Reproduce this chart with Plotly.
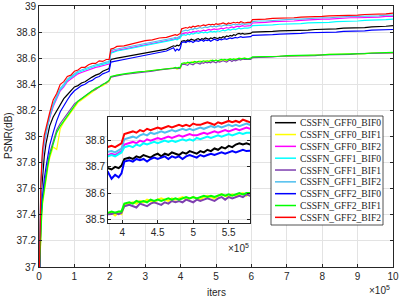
import plotly.graph_objects as go

# ---------------- data (iters in units of 1e5, PSNR in dB) ----------------
iters = [0.01, 0.02, 0.03, 0.05, 0.075, 0.1, 0.15, 0.2, 0.25, 0.3, 0.4, 0.5, 0.6, 0.7, 0.8, 0.9, 1.0,
         1.1, 1.2, 1.3, 1.4, 1.5, 1.6, 1.7, 1.8, 1.9, 1.98,
         2.03, 2.1, 2.2, 2.4, 2.6, 2.8, 3.0, 3.2, 3.4, 3.6, 3.8,
         3.85, 3.9, 3.95, 3.99,
         4.03, 4.1, 4.15, 4.2, 4.25, 4.3, 4.35, 4.4, 4.45, 4.5, 4.55, 4.6, 4.65, 4.7, 4.75, 4.8, 4.85,
         4.9, 4.95, 5.0, 5.05, 5.1, 5.15, 5.2, 5.25, 5.3, 5.35, 5.4, 5.45, 5.5, 5.55, 5.6, 5.65, 5.7,
         5.75, 5.8,
         5.9, 5.98,
         6.03, 6.2, 6.4, 6.6, 6.8, 7.0, 7.2, 7.4, 7.6, 7.8, 8.0, 8.2, 8.4, 8.6, 8.8, 9.0, 9.2, 9.4,
         9.6, 9.8, 10.0]

gff0_bif0 = [36.80, 37.10, 37.30, 37.45, 37.60, 37.70, 37.85, 37.95, 38.02, 38.08, 38.15, 38.20, 38.25, 38.29, 38.32, 38.35, 38.38,
             38.39, 38.41, 38.42, 38.44, 38.455, 38.47, 38.48, 38.50, 38.51, 38.52,
             38.59, 38.595, 38.60, 38.61, 38.62, 38.63, 38.64, 38.645, 38.655, 38.67, 38.695,
             38.69, 38.70, 38.695, 38.705,
             38.73, 38.735, 38.73, 38.74, 38.735, 38.745, 38.74, 38.735, 38.745, 38.75, 38.74, 38.75, 38.745,
             38.755, 38.75, 38.745, 38.755, 38.75, 38.76, 38.755, 38.75, 38.76, 38.755, 38.765, 38.76, 38.77,
             38.765, 38.775, 38.77, 38.78, 38.775, 38.785, 38.79, 38.785, 38.79, 38.785,
             38.785, 38.79,
             38.80, 38.80, 38.805, 38.805, 38.81, 38.81, 38.81, 38.815, 38.815, 38.82, 38.82, 38.825, 38.825,
             38.83, 38.83, 38.835, 38.835, 38.84, 38.84, 38.845, 38.85]

gff0_bif1 = [36.93, 37.03, 37.12, 37.24, 37.38, 37.48, 37.58, 37.68, 37.76, 37.83, 37.92, 37.90, 38.06, 38.11, 38.15, 38.19, 38.23,
             38.26, 38.28, 38.30, 38.32, 38.34, 38.36, 38.38, 38.39, 38.41, 38.42,
             38.455, 38.46, 38.47, 38.475, 38.485, 38.49, 38.50, 38.505, 38.51, 38.515, 38.52,
             38.525, 38.515, 38.525, 38.52,
             38.555, 38.56, 38.565, 38.56, 38.57, 38.565, 38.575, 38.57, 38.565, 38.575, 38.58, 38.575, 38.57,
             38.58, 38.575, 38.58, 38.585, 38.575, 38.58, 38.585, 38.58, 38.575, 38.585, 38.59, 38.585, 38.58,
             38.59, 38.595, 38.59, 38.585, 38.595, 38.59, 38.595, 38.6, 38.59, 38.6,
             38.595, 38.595,
             38.605, 38.61, 38.61, 38.615, 38.615, 38.615, 38.62, 38.62, 38.62, 38.625, 38.625, 38.63, 38.63,
             38.63, 38.635, 38.635, 38.635, 38.64, 38.64, 38.64, 38.64]

gff0_bif2 = [36.86, 37.18, 37.38, 37.56, 37.72, 37.84, 37.95, 38.03, 38.09, 38.14, 38.23, 38.29, 38.35, 38.38, 38.42, 38.44, 38.46,
             38.48, 38.49, 38.50, 38.515, 38.52, 38.53, 38.535, 38.545, 38.55, 38.555,
             38.645, 38.65, 38.66, 38.67, 38.68, 38.69, 38.70, 38.71, 38.72, 38.73, 38.745,
             38.75, 38.745, 38.755, 38.76,
             38.785, 38.79, 38.795, 38.79, 38.80, 38.795, 38.805, 38.80, 38.805, 38.81, 38.805, 38.81, 38.815,
             38.81, 38.815, 38.82, 38.815, 38.82, 38.825, 38.82, 38.82, 38.825, 38.83, 38.825, 38.83, 38.835,
             38.83, 38.835, 38.84, 38.835, 38.84, 38.845, 38.84, 38.845, 38.85, 38.845,
             38.845, 38.85,
             38.87, 38.87, 38.875, 38.88, 38.88, 38.885, 38.885, 38.89, 38.895, 38.895, 38.90, 38.90, 38.905,
             38.905, 38.91, 38.91, 38.91, 38.915, 38.915, 38.92, 38.92]

gff1_bif0 = [36.87, 37.20, 37.40, 37.58, 37.74, 37.86, 37.97, 38.04, 38.10, 38.15, 38.24, 38.30, 38.36, 38.39, 38.43, 38.45, 38.47,
             38.49, 38.50, 38.51, 38.525, 38.53, 38.54, 38.545, 38.555, 38.56, 38.565,
             38.64, 38.645, 38.655, 38.665, 38.675, 38.685, 38.695, 38.705, 38.715, 38.725, 38.74,
             38.745, 38.74, 38.75, 38.755,
             38.775, 38.78, 38.775, 38.785, 38.78, 38.79, 38.785, 38.79, 38.795, 38.79, 38.795, 38.80, 38.795,
             38.80, 38.795, 38.80, 38.805, 38.80, 38.805, 38.80, 38.81, 38.805, 38.81, 38.815, 38.81, 38.815,
             38.82, 38.815, 38.82, 38.825, 38.82, 38.825, 38.83, 38.825, 38.83, 38.83,
             38.83, 38.835,
             38.85, 38.85, 38.855, 38.855, 38.86, 38.86, 38.865, 38.865, 38.87, 38.87, 38.875, 38.875, 38.88,
             38.88, 38.885, 38.885, 38.89, 38.89, 38.895, 38.895, 38.90]

gff1_bif1 = [36.97, 37.08, 37.18, 37.30, 37.43, 37.53, 37.63, 37.73, 37.80, 37.87, 37.97, 38.05, 38.10, 38.14, 38.18, 38.21, 38.25,
             38.27, 38.29, 38.31, 38.33, 38.35, 38.36, 38.38, 38.40, 38.41, 38.43,
             38.455, 38.46, 38.465, 38.475, 38.48, 38.49, 38.495, 38.5, 38.51, 38.515, 38.52,
             38.52, 38.525, 38.52, 38.525,
             38.55, 38.555, 38.55, 38.545, 38.56, 38.555, 38.55, 38.56, 38.565, 38.56, 38.555, 38.565, 38.56,
             38.57, 38.565, 38.57, 38.565, 38.575, 38.57, 38.565, 38.575, 38.57, 38.575, 38.58, 38.575, 38.57,
             38.58, 38.585, 38.575, 38.585, 38.58, 38.585, 38.59, 38.585, 38.595, 38.59,
             38.59, 38.59,
             38.605, 38.605, 38.61, 38.61, 38.615, 38.615, 38.615, 38.62, 38.62, 38.62, 38.625, 38.625, 38.63,
             38.63, 38.63, 38.635, 38.635, 38.635, 38.64, 38.64, 38.64]

gff1_bif2 = [36.88, 37.22, 37.42, 37.60, 37.75, 37.87, 37.98, 38.05, 38.11, 38.16, 38.25, 38.31, 38.37, 38.40, 38.44, 38.46, 38.48,
             38.50, 38.51, 38.52, 38.535, 38.54, 38.55, 38.555, 38.565, 38.57, 38.575,
             38.655, 38.665, 38.67, 38.685, 38.695, 38.705, 38.715, 38.725, 38.735, 38.745, 38.755,
             38.76, 38.755, 38.765, 38.77,
             38.805, 38.81, 38.815, 38.81, 38.82, 38.825, 38.82, 38.83, 38.825, 38.83, 38.835, 38.83, 38.835,
             38.84, 38.835, 38.84, 38.845, 38.84, 38.845, 38.84, 38.845, 38.85, 38.845, 38.85, 38.855, 38.85,
             38.855, 38.85, 38.855, 38.86, 38.855, 38.86, 38.855, 38.86, 38.865, 38.86,
             38.86, 38.865,
             38.88, 38.885, 38.885, 38.89, 38.895, 38.895, 38.90, 38.90, 38.905, 38.905, 38.91, 38.91, 38.915,
             38.915, 38.92, 38.92, 38.92, 38.925, 38.925, 38.93, 38.93]

gff2_bif0 = [36.75, 37.00, 37.18, 37.35, 37.47, 37.55, 37.68, 37.77, 37.86, 37.93, 38.03, 38.12, 38.19, 38.24, 38.28, 38.32, 38.35,
             38.37, 38.39, 38.40, 38.42, 38.43, 38.45, 38.46, 38.48, 38.49, 38.50,
             38.57, 38.575, 38.58, 38.59, 38.60, 38.61, 38.62, 38.63, 38.64, 38.655, 38.68,
             38.655, 38.67, 38.66, 38.675,
             38.72, 38.725, 38.72, 38.73, 38.725, 38.73, 38.72, 38.73, 38.735, 38.73, 38.735, 38.74, 38.73,
             38.74, 38.735, 38.74, 38.73, 38.74, 38.745, 38.74, 38.735, 38.745, 38.74, 38.745, 38.75, 38.745,
             38.75, 38.755, 38.75, 38.755, 38.76, 38.755, 38.76, 38.765, 38.76, 38.76,
             38.76, 38.765,
             38.775, 38.775, 38.78, 38.78, 38.785, 38.785, 38.79, 38.79, 38.795, 38.795, 38.80, 38.80, 38.80,
             38.805, 38.805, 38.81, 38.81, 38.815, 38.815, 38.82, 38.82]

gff2_bif1 = [36.95, 37.05, 37.15, 37.26, 37.40, 37.50, 37.60, 37.70, 37.78, 37.85, 37.95, 38.03, 38.08, 38.12, 38.16, 38.20, 38.24,
             38.27, 38.29, 38.31, 38.33, 38.35, 38.37, 38.38, 38.40, 38.42, 38.43,
             38.46, 38.465, 38.47, 38.48, 38.49, 38.495, 38.50, 38.505, 38.515, 38.52, 38.525,
             38.53, 38.525, 38.53, 38.53,
             38.56, 38.565, 38.56, 38.57, 38.565, 38.57, 38.565, 38.575, 38.57, 38.575, 38.57, 38.575, 38.58,
             38.575, 38.58, 38.575, 38.58, 38.585, 38.58, 38.585, 38.58, 38.585, 38.59, 38.585, 38.59, 38.585,
             38.59, 38.595, 38.59, 38.595, 38.59, 38.595, 38.6, 38.595, 38.6, 38.6,
             38.595, 38.6,
             38.61, 38.61, 38.615, 38.615, 38.615, 38.62, 38.62, 38.62, 38.625, 38.625, 38.625, 38.63, 38.63,
             38.63, 38.635, 38.635, 38.635, 38.64, 38.64, 38.64, 38.645]

gff2_bif2 = [36.90, 37.25, 37.45, 37.62, 37.78, 37.90, 38.01, 38.07, 38.14, 38.18, 38.28, 38.33, 38.40, 38.42, 38.46, 38.47, 38.50,
             38.51, 38.53, 38.53, 38.55, 38.56, 38.56, 38.58, 38.575, 38.59, 38.59,
             38.67, 38.675, 38.69, 38.695, 38.71, 38.72, 38.735, 38.74, 38.755, 38.76, 38.775,
             38.78, 38.775, 38.785, 38.79,
             38.825, 38.83, 38.835, 38.83, 38.84, 38.835, 38.845, 38.84, 38.845, 38.85, 38.845, 38.85, 38.855,
             38.85, 38.855, 38.86, 38.855, 38.86, 38.855, 38.865, 38.86, 38.86, 38.865, 38.87, 38.865, 38.86,
             38.87, 38.865, 38.87, 38.875, 38.87, 38.875, 38.87, 38.88, 38.875, 38.87,
             38.875, 38.875,
             38.895, 38.895, 38.90, 38.905, 38.905, 38.91, 38.91, 38.915, 38.915, 38.92, 38.92, 38.925, 38.925,
             38.93, 38.93, 38.93, 38.935, 38.935, 38.94, 38.94, 38.945]

series_names = ["CSSFN_GFF0_BIF0", "CSSFN_GFF0_BIF1", "CSSFN_GFF0_BIF2",
                "CSSFN_GFF1_BIF0", "CSSFN_GFF1_BIF1", "CSSFN_GFF1_BIF2",
                "CSSFN_GFF2_BIF0", "CSSFN_GFF2_BIF1", "CSSFN_GFF2_BIF2"]
series_values = [gff0_bif0, gff0_bif1, gff0_bif2, gff1_bif0, gff1_bif1, gff1_bif2,
                 gff2_bif0, gff2_bif1, gff2_bif2]
series_colors = ["#000000", "#FFFF00", "#FF00FF", "#00FFFF", "#7E3FB0", "#4DBEEE",
                 "#0000FF", "#00FF00", "#FF0000"]

main_xticks = [0, 1, 2, 3, 4, 5, 6, 7, 8, 9, 10]
main_yticks = [37, 37.2, 37.4, 37.6, 37.8, 38, 38.2, 38.4, 38.6, 38.8, 39]
inset_xticks = [4, 4.5, 5, 5.5]
inset_yticks = [38.5, 38.6, 38.7, 38.8]

# ---------------- layout geometry ----------------
W, H = 399, 299
L, R, T, B = 39, 6, 6, 32
PW, PH = W - L - R, H - T - B


def px(xp):
    return (xp - L) / PW


def py(yp):
    return 1 - (yp - T) / PH


AX = "#262626"
GRID = "#E3E3E3"
FONT = "Liberation Sans, Arial, sans-serif"
SERIF = "Liberation Serif, Times New Roman, serif"

fig = go.Figure()
for name, vals, col in zip(series_names, series_values, series_colors):
    fig.add_trace(go.Scatter(x=iters, y=vals, mode="lines", name=name,
                             line=dict(color=col, width=1.2), showlegend=False,
                             xaxis="x", yaxis="y"))
for name, vals, col in zip(series_names, series_values, series_colors):
    fig.add_trace(go.Scatter(x=iters, y=vals, mode="lines", name=name,
                             line=dict(color=col, width=2), showlegend=False,
                             xaxis="x2", yaxis="y2"))

axis_common = dict(showline=True, linecolor=AX, linewidth=1, mirror="ticks",
                   ticks="inside", ticklen=3, tickcolor=AX, tickwidth=1,
                   showgrid=True, gridcolor=GRID, gridwidth=1, zeroline=False,
                   tickfont=dict(family=FONT, size=10, color=AX))

shapes = []
annotations = []

# compact MATLAB-style legend
lx0, lx1, ly0, ly1 = 271, 383, 116, 225
shapes.append(dict(type="rect", xref="paper", yref="paper", x0=px(lx0), x1=px(lx1),
                   y0=py(ly1), y1=py(ly0), fillcolor="white",
                   line=dict(color=AX, width=0.8), layer="above"))
row0, drow = 122.7, 11.83
for i, (name, col) in enumerate(zip(series_names, series_colors)):
    yy = row0 + i * drow
    shapes.append(dict(type="line", xref="paper", yref="paper", x0=px(275), x1=px(296),
                       y0=py(yy), y1=py(yy), line=dict(color=col, width=1.5), layer="above"))
    annotations.append(dict(text=name, xref="paper", yref="paper", x=px(297.5), y=py(yy),
                            xanchor="left", yanchor="middle", showarrow=False,
                            font=dict(family=SERIF, size=9.6, color=AX)))

# axis titles and exponent labels
annotations.append(dict(text="iters", xref="paper", yref="paper", x=px(216), y=py(292),
                        xanchor="center", yanchor="middle", showarrow=False,
                        font=dict(family=FONT, size=10, color=AX)))
annotations.append(dict(text="PSNR(dB)", xref="paper", yref="paper", x=px(8), y=py(136),
                        xanchor="center", yanchor="middle", showarrow=False, textangle=-90,
                        font=dict(family=FONT, size=10, color=AX)))
annotations.append(dict(text="×10<sup>5</sup>", xref="paper", yref="paper", x=px(392), y=py(298),
                        xanchor="right", yanchor="bottom", showarrow=False,
                        font=dict(family=FONT, size=10, color=AX)))
annotations.append(dict(text="×10<sup>5</sup>", xref="paper", yref="paper", x=px(251), y=py(256),
                        xanchor="right", yanchor="bottom", showarrow=False,
                        font=dict(family=FONT, size=10, color=AX)))

fig.update_layout(
    width=W, height=H,
    margin=dict(l=L, r=R, t=T, b=B, autoexpand=False),
    paper_bgcolor="white", plot_bgcolor="white",
    showlegend=False,
    xaxis=dict(axis_common, range=[0, 10], tickvals=main_xticks, domain=[0, 1]),
    yaxis=dict(axis_common, range=[37, 39], tickvals=main_yticks, domain=[0, 1],
               ticktext=[("%g" % v) for v in main_yticks]),
    xaxis2=dict(axis_common, range=[3.8, 5.8], tickvals=inset_xticks, anchor="y2",
                domain=[px(108), px(250)]),
    yaxis2=dict(axis_common, range=[38.486, 38.89], tickvals=inset_yticks, anchor="x2",
                domain=[py(223), py(117)]),
    shapes=shapes,
    annotations=annotations,
)

fig.write_html("out.html", config={"displayModeBar": False},
               post_script="document.body.style.margin='0';document.body.style.padding='0';")
